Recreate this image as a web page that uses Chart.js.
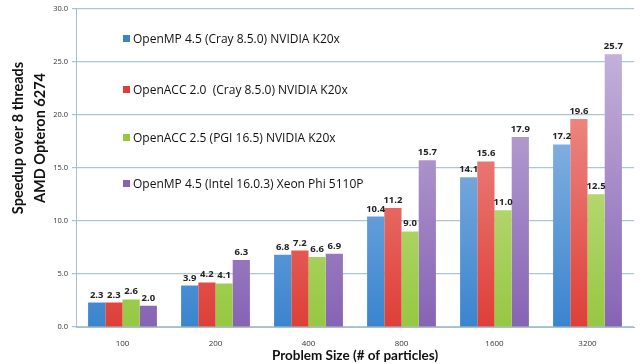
<!DOCTYPE html>
<html>
<head>
<meta charset="utf-8">
<script src="https://cdn.jsdelivr.net/npm/chart.js@4"></script>
<style>
  html, body { margin: 0; padding: 0; background: #fff; }
  #wrap { position: relative; width: 644px; height: 364px; }
  #legend { position: absolute; left: 123px; top: 0; font-family: "Open Sans", sans-serif; font-size: 12px; color: #111; }
  #legend div { position: absolute; white-space: pre; }
  #legend span { display: inline-block; width: 7px; height: 7px; margin-right: 3px; vertical-align: 1px; }
</style>
</head>
<body>
<div id="wrap">
  <canvas id="speedupChart" width="644" height="364"></canvas>
  <div id="legend"></div>
</div>
<script>
// Problem sizes on the x axis
const problemSizes = ["100", "200", "400", "800", "1600", "3200"];

// Speedup values, one array per compiler / device
const ompCrayK20x = [2.3, 3.9, 6.8, 10.4, 14.1, 17.2];
const accCrayK20x = [2.3, 4.2, 7.2, 11.2, 15.6, 19.6];
const accPgiK20x = [2.6, 4.1, 6.6, 9.0, 11.0, 12.5];
const ompIntelPhi = [2.0, 6.3, 6.9, 15.7, 17.9, 25.7];

const seriesNames = [
  "OpenMP 4.5 (Cray 8.5.0) NVIDIA K20x",
  "OpenACC 2.0  (Cray 8.5.0) NVIDIA K20x",
  "OpenACC 2.5 (PGI 16.5) NVIDIA K20x",
  "OpenMP 4.5 (Intel 16.0.3) Xeon Phi 5110P",
];

const yTicks = [0, 5, 10, 15, 20, 25, 30];
const yTitle = ["Speedup over 8 threads", "AMD Opteron 6274"];

// top / bottom colours for the bar gradients
const barColors = [
  ["#b0cdeb", "#3a84cf"],
  ["#f5a9a6", "#dd3f37"],
  ["#dcebb0", "#96c841"],
  ["#cdbde0", "#8663b4"],
];
const legendTops = [30, 81, 129, 175];

function gradientFor(i) {
  return function (context) {
    const chart = context.chart;
    const area = chart.chartArea;
    if (!area) return barColors[i][1];
    const g = chart.ctx.createLinearGradient(0, area.top, 0, area.bottom);
    g.addColorStop(0, barColors[i][0]);
    g.addColorStop(1, barColors[i][1]);
    return g;
  };
}

// value labels above each bar
const valueLabels = {
  id: "valueLabels",
  afterDatasetsDraw(chart) {
    const ctx = chart.ctx;
    ctx.save();
    ctx.font = "bold 9.5px 'Open Sans', sans-serif";
    ctx.fillStyle = "#222";
    ctx.textAlign = "center";
    ctx.textBaseline = "bottom";
    chart.data.datasets.forEach((ds, i) => {
      chart.getDatasetMeta(i).data.forEach((bar, j) => {
        ctx.fillText(ds.data[j].toFixed(1), bar.x, bar.y - 3);
      });
    });
    ctx.restore();
  },
};

// y axis title, sits a bit above the middle like the original
const yTitlePlugin = {
  id: "yTitle",
  afterDraw(chart) {
    const ctx = chart.ctx;
    ctx.save();
    ctx.font = "bold 14.5px Lato, sans-serif";
    ctx.fillStyle = "#111";
    ctx.textAlign = "center";
    ctx.textBaseline = "middle";
    ctx.translate(0, 138);
    ctx.rotate(-Math.PI / 2);
    ctx.fillText(yTitle[0], 0, 18);
    ctx.fillText(yTitle[1], 0, 40);
    ctx.restore();
  },
};

const seriesValues = [ompCrayK20x, accCrayK20x, accPgiK20x, ompIntelPhi];

const ctx = document.getElementById("speedupChart").getContext("2d");
const speedupChart = new Chart(ctx, {
  type: "bar",
  data: {
    labels: problemSizes,
    datasets: seriesValues.map((vals, i) => ({
      label: seriesNames[i],
      data: vals,
      backgroundColor: gradientFor(i),
      borderWidth: 0,
      categoryPercentage: 0.74,
      barPercentage: 1.0,
    })),
  },
  options: {
    responsive: false,
    animation: false,
    layout: { padding: { top: 7, right: 10, left: 0, bottom: 0 } },
    scales: {
      x: {
        grid: { display: false, drawTicks: true },
        border: { color: "#a9bfd0" },
        ticks: { font: { size: 8, family: "'Open Sans', sans-serif" }, color: "#333", padding: 4 },
        title: {
          display: true,
          text: "Problem Size (# of particles)",
          font: { size: 13.5, weight: "bold", family: "Lato, sans-serif" },
          color: "#111",
          padding: { top: 2, bottom: 0 },
        },
        afterFit(scale) { scale.height = 37; },
      },
      y: {
        min: 0,
        max: 30,
        afterBuildTicks(scale) { scale.ticks = yTicks.map((v) => ({ value: v })); },
        grid: { color: "#a9c7d6", lineWidth: 1.2, tickLength: 4, tickColor: "#a9bfd0" },
        border: { color: "#a9bfd0" },
        ticks: {
          font: { size: 7.5, family: "'Open Sans', sans-serif" },
          color: "#333",
          padding: 4,
          callback: (v) => Number(v).toFixed(1),
        },
        title: { display: false },
        afterFit(scale) { scale.width = 76; },
      },
    },
    plugins: {
      legend: { display: false },
      tooltip: { enabled: false },
    },
  },
  plugins: [valueLabels, yTitlePlugin],
});

// legend inside the plot area
const legendBox = document.getElementById("legend");
seriesNames.forEach((name, i) => {
  const item = document.createElement("div");
  item.style.top = legendTops[i] + "px";
  const sw = document.createElement("span");
  sw.style.background = barColors[i][1];
  item.appendChild(sw);
  item.appendChild(document.createTextNode(name));
  legendBox.appendChild(item);
});
</script>
</body>
</html>
